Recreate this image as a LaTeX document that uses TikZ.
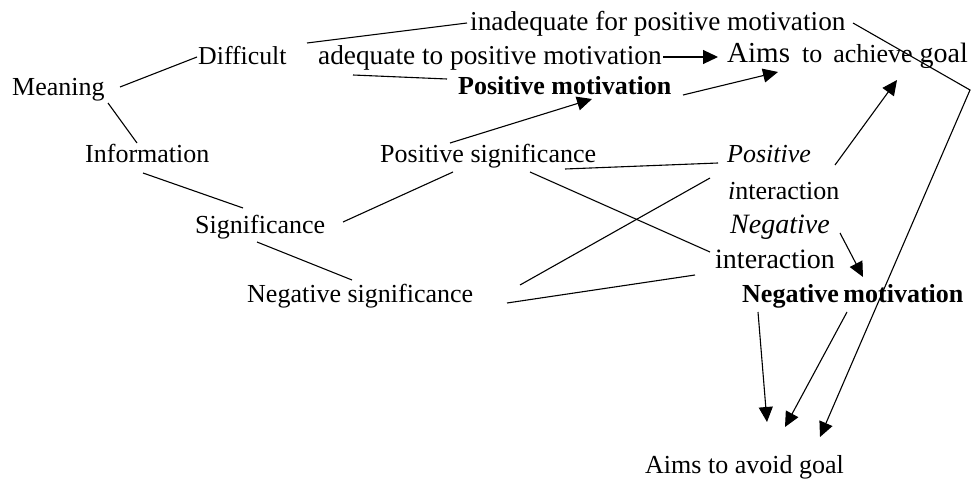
\documentclass[tikz,border=0pt]{standalone}
\usepackage{fontspec}
\setmainfont{Liberation Serif}
\usetikzlibrary{arrows.meta}
\begin{document}
\begin{tikzpicture}[x=1pt,y=-1pt,
  lbl/.style={anchor=base west,inner sep=0pt,font=\fontsize{26}{30}\selectfont},
  lblL/.style={lbl,font=\fontsize{27.3}{32}\selectfont},
  lblXL/.style={lbl,font=\fontsize{28}{32}\selectfont},
  con/.style={line width=1.1pt,black},
  arr/.style={con,-{Triangle[length=15pt,width=14pt]}}]
\useasboundingbox[fill=white] (0,0) rectangle (973,481);

% nodes
\node[lblL] (inad)   at (470,31)  {inadequate for positive motivation};
\node[lbl,font=\fontsize{25.8}{30}\selectfont] (diff) at (198,65) {Difficult};
\node[lblL] (adeq)   at (318,65)  {adequate to positive motivation};
\node[lbl]  (ach)    at (727,63)  {{\fontsize{29}{32}\selectfont Aims}\hspace{12pt}to\hspace{11pt}achieve\hspace{7pt}{\fontsize{28}{32}\selectfont goal}};
\node[lbl]  (mean)   at (12,96)   {Meaning};
\node[lbl]  (posmot) at (458,95)  {\bfseries Positive motivation};
\node[lbl]  (info)   at (85,163)  {Information};
\node[lbl]  (possig) at (380,163) {Positive significance};
\node[lbl]  (posI)   at (727,163) {\itshape Positive};
\node[lbl]  (posI2)  at (728,199) {\textit{i}nteraction};
\node[lbl]  (sig)    at (195,233) {Significance};
\node[lblXL] (negI)  at (730,233) {\itshape Negative};
\node[lblXL] (negI2) at (715,268) {interaction};
\node[lbl]  (negsig) at (247,302) {Negative significance};
\node[lbl]  (negmot) at (742,302) {\bfseries Negative\hspace{-2pt} motivation};
\node[lbl]  (avoid)  at (645,473) {Aims to avoid goal};
\coordinate (corner) at (970,90);

% plain connectors
\draw[con] ([shift={(108,-9)}]mean.base west) -- ([shift={(-1,-8)}]diff.base west);
\draw[con] ([shift={(96,7)}]mean.base west) -- ([shift={(52,-20)}]info.base west);
\draw[con] ([shift={(58,10)}]info.base west) -- ([shift={(48,-25)}]sig.base west);
\draw[con] ([shift={(148,-11)}]sig.base west) -- ([shift={(73,9)}]possig.base west);
\draw[con] ([shift={(62,9)}]sig.base west) -- ([shift={(105,-22)}]negsig.base west);
\draw[con] ([shift={(109,-22)}]diff.base west) -- ([shift={(-3,-8)}]inad.base west);
\draw[con] ([shift={(155,10)}]diff.base west) -- ([shift={(-11,-16)}]posmot.base west);
\draw[con] ([shift={(185,6)}]possig.base west) -- ([shift={(-9,0)}]posI.base west);
\draw[con] ([shift={(150,9)}]possig.base west) -- ([shift={(-5,-16)}]negI2.base west);
\draw[con] ([shift={(273,-17)}]negsig.base west) -- ([shift={(-17,15)}]posI.base west);
\draw[con] ([shift={(260,1)}]negsig.base west) -- ([shift={(-20,7)}]negI2.base west);

% arrows
\draw[arr] ([shift={(345,-8)}]adeq.base west) -- ([shift={(-9,-6)}]ach.base west);
\draw[arr] ([shift={(70,-20)}]possig.base west) -- ([shift={(134,4)}]posmot.base west);
\draw[arr] ([shift={(225,0)}]posmot.base west) -- ([shift={(51,9)}]ach.base west);
\draw[arr] ([shift={(108,2)}]posI.base west) -- ([shift={(170,17)}]ach.base west);
\draw[arr] ([shift={(383,-8)}]inad.base west) -- (corner) -- ([shift={(175,-36)}]avoid.base west);
\draw[arr] ([shift={(110,0)}]negI.base west) -- ([shift={(121,-25)}]negmot.base west);
\draw[arr] ([shift={(16,10)}]negmot.base west) -- ([shift={(122,-51)}]avoid.base west);
\draw[arr] ([shift={(105,10)}]negmot.base west) -- ([shift={(140,-46)}]avoid.base west);
\end{tikzpicture}
\end{document}
